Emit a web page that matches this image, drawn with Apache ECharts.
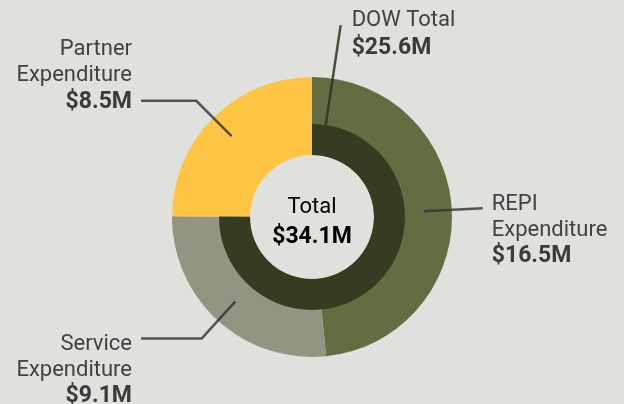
<!DOCTYPE html>
<html><head><meta charset="utf-8">
<script src="https://cdn.jsdelivr.net/npm/echarts@6/dist/echarts.min.js"></script>
<style>html,body{margin:0;padding:0;background:#dfe1dc}#c{width:624px;height:404px}</style>
</head><body><div id="c"></div>
<script>
// ---- data ----
const outerNames = ['REPI\nExpenditure', 'Service\nExpenditure', 'Partner\nExpenditure'];
const outerValues = [16.5, 9.1, 8.5];
const innerNames = ['DOW Total', 'Partner'];
const innerValues = [25.6, 8.5];
const totalLabel = 'Total';
const totalValue = 34.1;

// ---- style ----
const FONT = 'Roboto';
const TXT = '#424242';
const BOLD = '#3b3b3b';
const outerColors = ['#626e42', '#929581', '#fec444'];
const innerColors = ['#363c22', 'rgba(0,0,0,0)'];
const CLEAR = 'rgba(0,0,0,0)';
const CX = 312, CY = 217;
const R_IN = [62, 93], R_OUT = [93, 140];

function money(v) { return '$' + v.toFixed(1) + 'M'; }
function pt(ang, r) { const a = ang * Math.PI / 180; return [CX + r * Math.sin(a), CY - r * Math.cos(a)]; }
function midAngle(values, i) {
  const tot = values.reduce((a, b) => a + b, 0);
  let cum = 0; for (let k = 0; k < i; k++) cum += values[k];
  return (cum + values[i] / 2) / tot * 360;
}
function richFmt(lh) {
  return {
    n: { fontFamily: FONT, fontSize: 22, color: TXT, lineHeight: lh },
    v: { fontFamily: FONT, fontSize: 23, fontWeight: 'bold', color: BOLD, lineHeight: lh }
  };
}
function fmt(p) {
  return p.name.split('\n').map(s => '{n|' + s + '}').join('\n') + '\n{v|' + money(p.value) + '}';
}

// label layout specs (positions only)
const outerSpec = [
  { r0: 112, r1: 171, side: 'right', gap: 9, dy: -17 },
  { r0: 114, r1: 164, side: 'left', endX: 141, gap: 9, dy: -7 },
  { r0: 114, r1: 164, side: 'left', endX: 141, gap: 9, dy: -64 }
];
const innerSpec = [{ angle: 8.5, r0: 93, r1: 194, side: 'right', gap: 11, dy: -19 }];

function makeLayout(values, specs) {
  return function (params) {
    const s = specs[params.dataIndex];
    if (!s) return {};
    const ang = s.angle != null ? s.angle : midAngle(values, params.dataIndex);
    const p0 = pt(ang, s.r0), p1 = pt(ang, s.r1);
    const p2 = s.endX != null ? [s.endX, p1[1]] : p1.slice();
    const tx = s.side === 'left' ? p2[0] - s.gap : p2[0] + s.gap;
    return {
      x: tx, y: p2[1] + s.dy,
      align: s.side === 'left' ? 'right' : 'left',
      verticalAlign: 'top',
      labelLinePoints: [p0, p1, p2]
    };
  };
}

const base = { type: 'pie', center: [CX, CY], startAngle: 90, clockwise: true, silent: true,
  avoidLabelOverlap: false, itemStyle: { borderWidth: 0 }, emphasis: { disabled: true } };

const chart = echarts.init(document.getElementById('c'), null, { renderer: 'canvas' });
chart.setOption({
  backgroundColor: '#dfe1dc',
  animation: false,
  series: [
    Object.assign({}, base, {
      name: 'outer', z: 2, radius: [R_IN[0], R_OUT[1]], label: { show: false }, labelLine: { show: false },
      data: outerNames.map((n, i) => ({ name: n, value: outerValues[i], itemStyle: { color: outerColors[i] } }))
    }),
    Object.assign({}, base, {
      name: 'inner', z: 3, radius: R_IN, label: { show: false }, labelLine: { show: false },
      data: innerNames.map((n, i) => ({ name: n, value: innerValues[i], itemStyle: { color: innerColors[i] } }))
    }),
    Object.assign({}, base, {
      name: 'outerLabels', z: 5, radius: R_OUT,
      label: { show: true, position: 'outside', formatter: fmt, rich: richFmt(26) },
      labelLine: { show: true, lineStyle: { color: 'rgba(50,50,50,0.8)', width: 2.5 } },
      labelLayout: makeLayout(outerValues, outerSpec),
      data: outerNames.map((n, i) => ({ name: n, value: outerValues[i], itemStyle: { color: CLEAR } }))
    }),
    Object.assign({}, base, {
      name: 'innerLabels', z: 5, radius: R_IN,
      label: { show: true, position: 'outside', formatter: fmt, rich: richFmt(28) },
      labelLine: { show: true, lineStyle: { color: 'rgba(45,52,28,0.85)', width: 2.5 } },
      labelLayout: makeLayout(innerValues, innerSpec),
      data: innerNames.map((n, i) => ({
        name: n, value: innerValues[i], itemStyle: { color: CLEAR },
        label: { show: i === 0 }, labelLine: { show: i === 0 }
      }))
    })
  ],
  graphic: [{
    type: 'text', x: CX, y: 193, silent: true, z: 10,
    style: {
      text: '{a|' + totalLabel + '}\n{b|' + money(totalValue) + '}',
      align: 'center', verticalAlign: 'top',
      rich: {
        a: { fontFamily: FONT, fontSize: 22, color: TXT, lineHeight: 29.5, align: 'center' },
        b: { fontFamily: FONT, fontSize: 23, fontWeight: 'bold', color: BOLD, lineHeight: 29.5, align: 'center' }
      }
    }
  }]
});
</script></body></html>
